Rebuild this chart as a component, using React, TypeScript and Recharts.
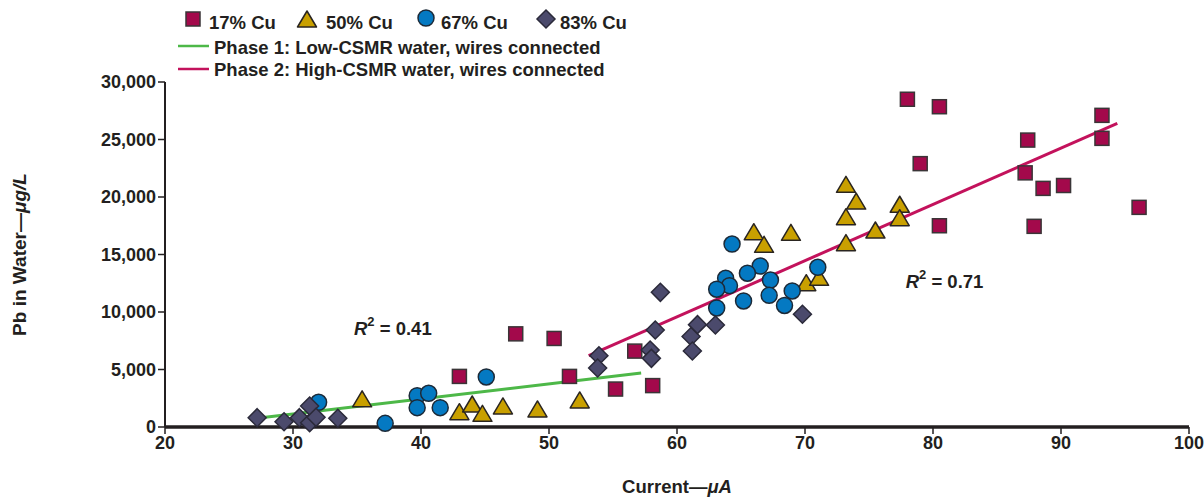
import {
  ReferenceDot,
  ReferenceLine,
  Scatter,
  ScatterChart,
  XAxis,
  YAxis,
} from "recharts"

const FONT = '"Liberation Sans", Arial, Helvetica, sans-serif'
const INK = "#231f20"

// 17% Cu
const cu17X = [43.0, 47.4, 50.4, 51.6, 55.2, 56.7, 58.1, 78.0, 80.5, 79.0, 80.5, 87.4, 87.2, 88.6, 87.9, 90.2, 93.2, 93.2, 96.1]
const cu17Y = [4400, 8100, 7700, 4400, 3300, 6600, 3600, 28500, 27850, 22900, 17500, 24950, 22100, 20750, 17450, 21000, 27100, 25100, 19100]

// 50% Cu
const cu50X = [35.4, 43.0, 44.0, 44.8, 46.4, 49.1, 52.4, 66.0, 66.8, 68.9, 70.1, 71.1, 73.2, 74.0, 73.2, 73.2, 75.5, 77.4, 77.4]
const cu50Y = [2450, 1330, 2000, 1190, 1830, 1570, 2350, 16980, 15890, 16930, 12550, 13020, 21100, 19650, 18290, 16030, 17130, 19370, 18200]

// 67% Cu
const cu67X = [32.0, 37.2, 39.7, 40.6, 39.7, 41.5, 45.1, 64.3, 66.5, 65.5, 63.8, 64.1, 63.1, 67.3, 67.2, 65.2, 63.1, 69.0, 68.4, 71.0]
const cu67Y = [2150, 320, 2720, 2930, 1680, 1680, 4350, 15910, 14000, 13370, 12930, 12290, 11980, 12780, 11450, 10960, 10350, 11830, 10570, 13890]

// 83% Cu
const cu83X = [27.2, 29.3, 30.5, 31.3, 31.3, 31.8, 33.5, 53.9, 53.8, 58.7, 58.3, 57.9, 58.0, 61.1, 61.6, 63.0, 61.2, 69.8]
const cu83Y = [810, 460, 810, 370, 1830, 840, 760, 6200, 5130, 11710, 8430, 6700, 5970, 7870, 8900, 8870, 6610, 9800]

// fitted lines: [x1, x2], [y1, y2]
const phase1X = [27.5, 57.2]
const phase1Y = [800, 4700]
const phase2X = [53.1, 94.4]
const phase2Y = [6200, 26400]

const xTicks = [20, 30, 40, 50, 60, 70, 80, 90, 100]
const yTicks = [0, 5000, 10000, 15000, 20000, 25000, 30000]

const zip = (xs: number[], ys: number[]) => xs.map((x, i) => ({ x, y: ys[i] }))

const COLORS = {
  cu17: "#a3094b",
  cu50: "#c9a000",
  cu67: "#0479c2",
  cu83: "#4b4a6c",
  phase1: "#4db848",
  phase2: "#c3125c",
}

function Square({ cx, cy }: any) {
  const s = 14
  return <rect x={cx - s / 2} y={cy - s / 2} width={s} height={s} fill={COLORS.cu17} stroke="#3a3537" strokeWidth={1.5} />
}

function Triangle({ cx, cy }: any) {
  const w = 19
  const h = 16
  return (
    <path
      d={`M${cx},${cy - h / 2} L${cx + w / 2},${cy + h / 2} L${cx - w / 2},${cy + h / 2} Z`}
      fill={COLORS.cu50}
      stroke="#2a2520"
      strokeWidth={1.5}
      strokeLinejoin="round"
    />
  )
}

function Circle({ cx, cy }: any) {
  return <circle cx={cx} cy={cy} r={8} fill={COLORS.cu67} stroke="#1c2a38" strokeWidth={1.5} />
}

function Diamond({ cx, cy }: any) {
  const r = 9
  return (
    <path
      d={`M${cx},${cy - r} L${cx + r},${cy} L${cx},${cy + r} L${cx - r},${cy} Z`}
      fill={COLORS.cu83}
      stroke="#2b2a3a"
      strokeWidth={1.5}
    />
  )
}

function r2Label(value: string) {
  return (props: any) => {
    const { x, y } = props.viewBox
    return (
      <text x={x} y={y} textAnchor="middle" dominantBaseline="central" fontFamily={FONT} fontWeight="bold" fontSize={18.5} fill={INK}>
        <tspan fontStyle="italic">R</tspan>
        <tspan dy={-7} fontSize={13}>2</tspan>
        <tspan dy={7}> = {value}</tspan>
      </text>
    )
  }
}

function XTitle(props: any) {
  const { x, y, width } = props.viewBox
  return (
    <text x={x + width / 2} y={y + 59} textAnchor="middle" dominantBaseline="central" fontFamily={FONT} fontWeight="bold" fontSize={18.5} fill={INK}>
      Current—<tspan fontStyle="italic">μA</tspan>
    </text>
  )
}

function YTitle(props: any) {
  const { y, height } = props.viewBox
  const cx = 19
  const cy = y + height / 2
  return (
    <text
      x={cx}
      y={cy}
      transform={`rotate(-90 ${cx} ${cy})`}
      textAnchor="middle"
      dominantBaseline="central"
      fontFamily={FONT}
      fontWeight="bold"
      fontSize={19}
      fill={INK}
    >
      Pb in Water—<tspan fontStyle="italic">μg/L</tspan>
    </text>
  )
}

function LegendOverlay() {
  const text = { fontFamily: FONT, fontWeight: "bold" as const, fontSize: 18.5, fill: INK }
  const markers = [
    { label: "17% Cu", icon: <Square cx={193} cy={19} />, tx: 209 },
    { label: "50% Cu", icon: <Triangle cx={307} cy={19} />, tx: 326 },
    { label: "67% Cu", icon: <Circle cx={426} cy={18} />, tx: 441 },
    { label: "83% Cu", icon: <Diamond cx={546} cy={19} />, tx: 560 },
  ]
  return (
    <svg width={700} height={85} style={{ position: "absolute", left: 0, top: 0 }}>
      {markers.map((m) => (
        <g key={m.label}>
          {m.icon}
          <text x={m.tx} y={22} dominantBaseline="central" {...text}>
            {m.label}
          </text>
        </g>
      ))}
      <line x1={178} x2={209} y1={46} y2={46} stroke={COLORS.phase1} strokeWidth={2.5} />
      <text x={214} y={47} dominantBaseline="central" {...text}>
        Phase 1: Low-CSMR water, wires connected
      </text>
      <line x1={178} x2={209} y1={69} y2={69} stroke={COLORS.phase2} strokeWidth={2.5} />
      <text x={214} y={69} dominantBaseline="central" {...text}>
        Phase 2: High-CSMR water, wires connected
      </text>
    </svg>
  )
}

export default function App() {
  const tickStyle = { fontFamily: FONT, fontWeight: "bold", fontSize: 18, fill: INK }
  return (
    <div style={{ position: "absolute", left: 0, top: 0, width: 1204, height: 497, background: "#fff" }}>
      <ScatterChart width={1204} height={497} margin={{ top: 82, right: 15, left: 0, bottom: 0 }}>
        <XAxis
          type="number"
          dataKey="x"
          domain={[20, 100]}
          ticks={xTicks}
          allowDataOverflow
          height={70}
          axisLine={{ stroke: INK, strokeWidth: 3.5 }}
          tickLine={{ stroke: INK, strokeWidth: 1.5 }}
          tickSize={7}
          tick={tickStyle}
          label={<XTitle />}
        />
        <YAxis
          type="number"
          dataKey="y"
          domain={[0, 30000]}
          ticks={yTicks}
          width={165}
          axisLine={{ stroke: INK, strokeWidth: 2 }}
          tickLine={{ stroke: INK, strokeWidth: 1.5 }}
          tickSize={7}
          tick={tickStyle}
          tickFormatter={(v: number) => v.toLocaleString("en-US")}
          label={<YTitle />}
        />
        <Scatter name="17% Cu" data={zip(cu17X, cu17Y)} shape={(p: any) => <Square {...p} />} isAnimationActive={false} />
        <Scatter name="50% Cu" data={zip(cu50X, cu50Y)} shape={(p: any) => <Triangle {...p} />} isAnimationActive={false} />
        <Scatter name="67% Cu" data={zip(cu67X, cu67Y)} shape={(p: any) => <Circle {...p} />} isAnimationActive={false} />
        <Scatter name="83% Cu" data={zip(cu83X, cu83Y)} shape={(p: any) => <Diamond {...p} />} isAnimationActive={false} />
        <ReferenceLine
          segment={zip(phase1X, phase1Y)}
          stroke={COLORS.phase1}
          strokeWidth={3}
          ifOverflow="visible"
        />
        <ReferenceLine
          segment={zip(phase2X, phase2Y)}
          stroke={COLORS.phase2}
          strokeWidth={3}
          ifOverflow="visible"
        />
        <ReferenceDot x={37.8} y={8600} r={0} stroke="none" fill="none" label={r2Label("0.41")} />
        <ReferenceDot x={80.9} y={12700} r={0} stroke="none" fill="none" label={r2Label("0.71")} />
      </ScatterChart>
      <LegendOverlay />
    </div>
  )
}
